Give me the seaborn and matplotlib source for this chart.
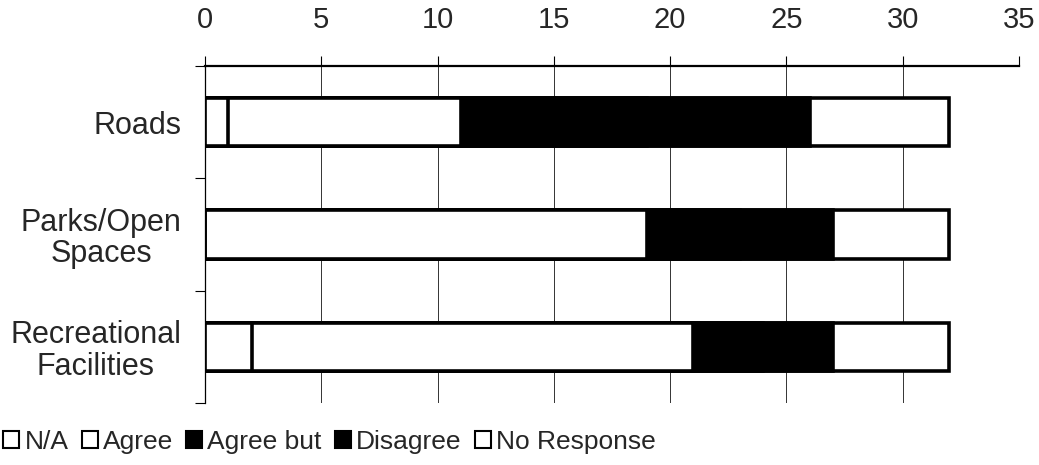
import matplotlib
matplotlib.use("Agg")
import matplotlib.pyplot as plt
import seaborn as sns
import pandas as pd
import numpy as np
from matplotlib.patches import Patch

categories = ["Roads", "Parks/Open\nSpaces", "Recreational\nFacilities"]
series_names = ["N/A", "Agree", "Agree but", "Disagree", "No Response"]
na = [1, 0, 2]
agree = [10, 19, 19]
agree_but = [8, 4, 3]
disagree = [7, 4, 3]
no_response = [6, 5, 5]
series_colors = ["white", "white", "black", "black", "white"]
x_ticks = [0, 5, 10, 15, 20, 25, 30, 35]

sns.set_theme(style="white")
plt.rcParams["font.family"] = ["Liberation Sans", "DejaVu Sans"]

fig = plt.figure(figsize=(10.39, 4.65), dpi=100)
ax = fig.add_axes([0.1973, 0.1333, 0.7834, 0.7247])

vals = np.array([na, agree, agree_but, disagree, no_response], dtype=float)
cum = np.cumsum(vals, axis=0)

# draw from the largest cumulative to the smallest so each segment shows
for i in range(len(series_names) - 1, -1, -1):
    df = pd.DataFrame({"cat": categories, "val": cum[i]})
    sns.barplot(data=df, y="cat", x="val", orient="h", ax=ax,
                color=series_colors[i], edgecolor="black", linewidth=2.6,
                width=0.43, saturation=1)

ax.set_xlim(0, 35)
ax.set_ylim(2.5, -0.5)
ax.set_xticks(x_ticks)
ax.xaxis.tick_top()
ax.set_xlabel("")
ax.set_ylabel("")
ax.tick_params(axis="x", which="major", top=True, bottom=False, direction="out",
               length=7, width=0.8, color="black", labelsize=21, pad=16)
ax.grid(axis="x", color="#333333", linewidth=0.7)
ax.set_axisbelow(True)

ax.set_yticks(range(len(categories)))
ax.set_yticklabels(categories)
ax.set_yticks([-0.5, 0.5, 1.5, 2.5], minor=True)
ax.tick_params(axis="y", which="major", length=0, labelsize=22, pad=17)
ax.tick_params(axis="y", which="minor", left=True, direction="out", length=7,
               width=0.8, color="black")
for lbl in ax.get_yticklabels():
    lbl.set_multialignment("center")
    lbl.set_linespacing(1.05)

for s in ["right", "bottom"]:
    ax.spines[s].set_visible(False)
ax.spines["top"].set_color("black")
ax.spines["top"].set_linewidth(1.6)
ax.spines["left"].set_color("black")
ax.spines["left"].set_linewidth(0.9)

handles = [Patch(facecolor=c, edgecolor="black", linewidth=1.5) for c in series_colors]
fig.legend(handles, series_names, loc="lower left", bbox_to_anchor=(-0.012, -0.01),
           ncol=5, frameon=False, fontsize=19, handlelength=0.6, handleheight=0.6,
           handletextpad=0.2, columnspacing=0.5, borderaxespad=0.2)

fig.savefig("out.png", dpi=100)
